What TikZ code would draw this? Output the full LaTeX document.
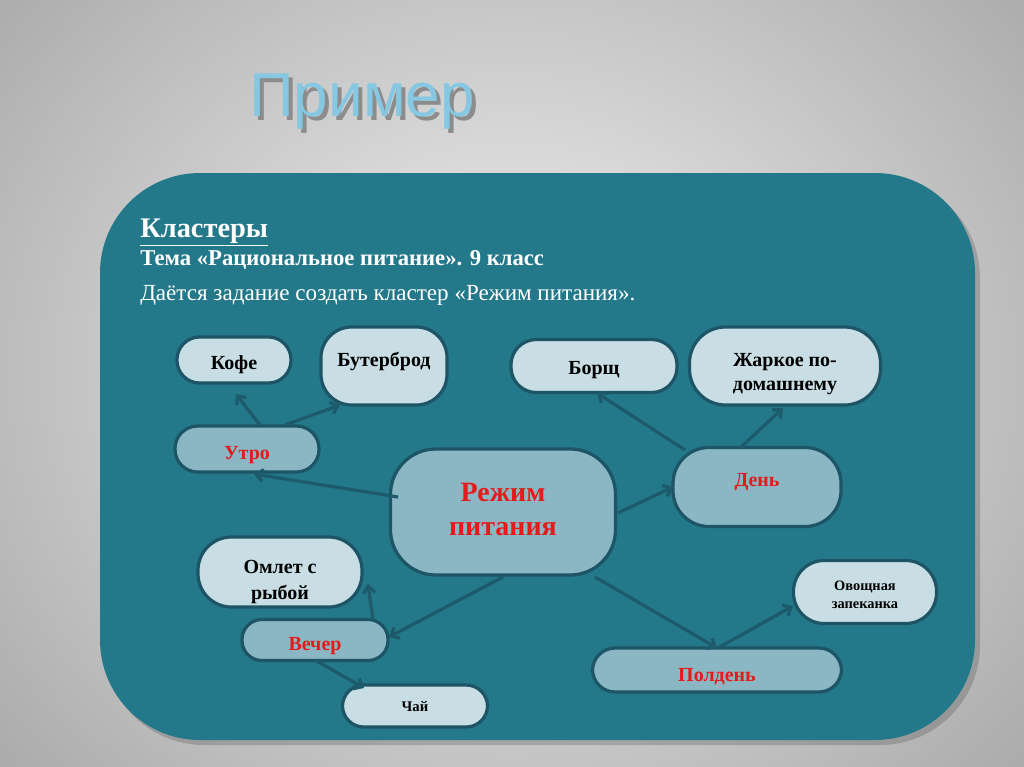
\documentclass[tikz,border=0pt]{standalone}
\usepackage{fontspec}
\setmainfont{Liberation Serif}
\newfontfamily\titlefont{Liberation Sans}
\usetikzlibrary{arrows.meta,calc}
\definecolor{panel}{HTML}{237889}
\definecolor{edge}{HTML}{1D5566}
\definecolor{light}{HTML}{C8DEE4}
\definecolor{mid}{HTML}{8AB7C3}
\definecolor{redtxt}{HTML}{E31B1B}
\definecolor{arr}{HTML}{1D5A6B}
\definecolor{ttl}{HTML}{86C8E2}
\tikzset{
  box/.style={draw=edge, line width=2.4pt, fill=light, inner sep=0pt},
  midbox/.style={box, fill=mid},
  txt/.style={font=\bfseries\fontsize{15}{19}\selectfont, align=center, inner sep=0pt},
  redlbl/.style={txt, text=redtxt},
  conn/.style={draw=arr, line width=2.4pt, -{Straight Barb[length=5pt,width=9pt]}},
}
\begin{document}
\begin{tikzpicture}[x=0.75pt,y=-0.75pt]
\useasboundingbox (0,0) rectangle (1024,767);
% background
\shade[inner color=gray!10, outer color=gray!65] (-150,-220) rectangle (1174,967);
\fill[gray!50!black, opacity=0.25, rounded corners=75] (104,178) rectangle (980,745);
\fill[panel, rounded corners=75] (100,173) rectangle (975,740);
% title (with its shadow in the same node)
\node[text=ttl, font=\titlefont\fontsize{46.5}{50}\selectfont, anchor=base, inner sep=0pt] (title) at (362,116)
  {\makebox[0pt][l]{\hspace*{3pt}\raisebox{-3pt}{\textcolor{black!45}{Пример}}}Пример};
% header
\node[text=white, anchor=base west, inner sep=0pt, font=\bfseries\fontsize{21.3}{24}\selectfont] (h1) at (140,237) {\underline{Кластеры}};
\node[text=white, anchor=base west, inner sep=0pt, font=\bfseries\fontsize{17}{20}\selectfont] (h2) at (140,265) {Тема «Рациональное питание». 9 класс};
\node[text=white, anchor=base west, inner sep=0pt, font=\fontsize{17.3}{20}\selectfont] (h3) at (140,300) {Даётся задание создать кластер «Режим питания».};
% shapes
\node[box, minimum width=114*0.75pt, minimum height=46*0.75pt, rounded corners=17pt] (kofe) at (234,360) {};
\node[box, minimum width=126*0.75pt, minimum height=78*0.75pt, rounded corners=23pt] (buter) at (384,366) {};
\node[midbox, minimum width=144*0.75pt, minimum height=46*0.75pt, rounded corners=17pt] (utro) at (247,449) {};
\node[midbox, minimum width=225*0.75pt, minimum height=126*0.75pt, rounded corners=34pt] (rezhim) at (503,512) {};
\node[box, minimum width=166*0.75pt, minimum height=53*0.75pt, rounded corners=19pt] (borsch) at (594,366) {};
\node[box, minimum width=191*0.75pt, minimum height=78*0.75pt, rounded corners=27pt] (zharkoe) at (785,366) {};
\node[midbox, minimum width=168*0.75pt, minimum height=79*0.75pt, rounded corners=27pt] (den) at (757,487) {};
\node[box, minimum width=164*0.75pt, minimum height=70*0.75pt, rounded corners=25pt] (omlet) at (280,572) {};
\node[midbox, minimum width=146*0.75pt, minimum height=41*0.75pt, rounded corners=15pt] (vecher) at (315,640) {};
\node[box, minimum width=145*0.75pt, minimum height=42*0.75pt, rounded corners=16pt] (chai) at (415,706) {};
\node[box, minimum width=143*0.75pt, minimum height=63*0.75pt, rounded corners=23pt] (ovosch) at (865,592) {};
\node[midbox, minimum width=249*0.75pt, minimum height=44*0.75pt, rounded corners=17pt] (polden) at (717,670) {};
% texts
\node[txt] (tkofe) at (234,365) {Кофе};
\node[txt] (tbuter) at (384,361) {Бутерброд};
\node[redlbl] (tutro) at (247,455) {Утро};
\node[redlbl, font=\bfseries\fontsize{21}{25.5}\selectfont] (trezhim) at (503,509) {Режим\\питания};
\node[txt] (tborsch) at (594,370) {Борщ};
\node[txt, font=\bfseries\fontsize{15}{17.5}\selectfont] (tzharkoe) at (785,374) {Жаркое по-\\домашнему};
\node[redlbl] (tden) at (757,482) {День};
\node[txt] (tomlet) at (280,582) {Омлет с\\рыбой};
\node[redlbl] (tvecher) at (315,646) {Вечер};
\node[txt, font=\bfseries\fontsize{11}{13}\selectfont] (tchai) at (415,707) {Чай};
\node[txt, font=\bfseries\fontsize{10.8}{13.5}\selectfont] (tovosch) at (865,595) {Овощная\\запеканка};
\node[redlbl] (tpolden) at (717,677) {Полдень};
% connectors
\draw[conn] ([shift={(13,-24)}]utro.center) -- ([shift={(2,34)}]kofe.center);
\draw[conn] ([shift={(38,-24)}]utro.center) -- ([shift={(-44,39)}]buter.center);
\draw[conn] ([shift={(-105,-15)}]rezhim.center) -- ([shift={(7,25)}]utro.center);
\draw[conn] ([shift={(115,1)}]rezhim.center) -- ([shift={(-84,0)}]den.center);
\draw[conn] ([shift={(-72,-37)}]den.center) -- ([shift={(3,27)}]borsch.center);
\draw[conn] ([shift={(-17,-39)}]den.center) -- ([shift={(-2,42)}]zharkoe.center);
\draw[conn] ([shift={(0,65)}]rezhim.center) -- ([shift={(74,-3)}]vecher.center);
\draw[conn] ([shift={(58,-20)}]vecher.center) -- ([shift={(88,12)}]omlet.center);
\draw[conn] ([shift={(0,20)}]vecher.center) -- ([shift={(-51,-18)}]chai.center);
\draw[conn] ([shift={(92,65)}]rezhim.center) -- ([shift={(0,-22)}]polden.center);
\draw[conn] ([shift={(1,-22)}]polden.center) -- ([shift={(-72,14)}]ovosch.center);
\end{tikzpicture}
\end{document}
